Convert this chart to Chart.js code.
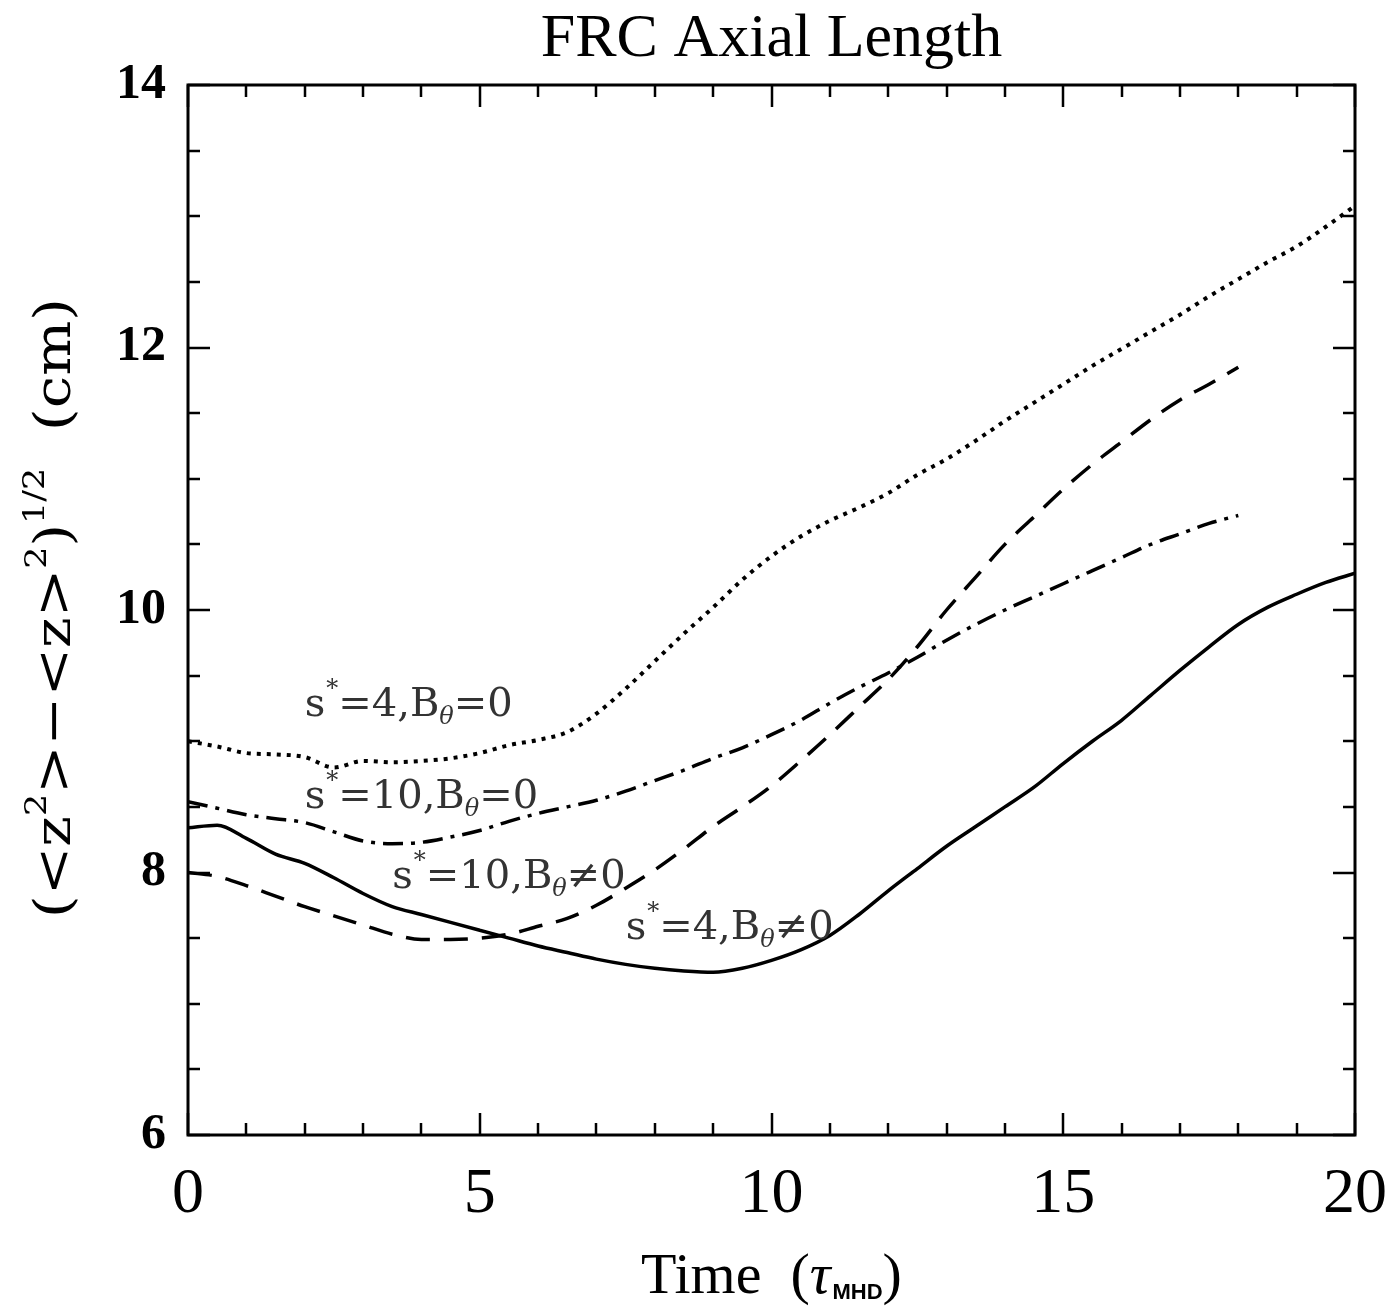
<!DOCTYPE html>
<html>
<head>
<meta charset="utf-8">
<script src="https://cdn.jsdelivr.net/npm/chart.js@4.4.1/dist/chart.umd.min.js"></script>
<style>
  html, body { margin: 0; padding: 0; background: #fff; }
</style>
</head>
<body>
<canvas id="axialChart" width="1391" height="1310"></canvas>
<script>
// time samples (tau_MHD)
const timeLong = [0, 0.5, 1, 1.5, 2, 2.5, 3, 3.5, 4, 4.5, 5, 5.5, 6, 6.5, 7, 7.5, 8, 8.5, 9, 9.5,
                  10, 10.5, 11, 11.5, 12, 12.5, 13, 13.5, 14, 14.5, 15, 15.5, 16, 16.5, 17, 17.5,
                  18, 18.5, 19, 19.5, 20];
const timeShort = [0, 0.5, 1, 1.5, 2, 2.5, 3, 3.5, 4, 4.5, 5, 5.5, 6, 6.5, 7, 7.5, 8, 8.5, 9, 9.5,
                   10, 10.5, 11, 11.5, 12, 12.5, 13, 13.5, 14, 14.5, 15, 15.5, 16, 16.5, 17, 17.5, 18];

// s*=4, B_theta != 0  (solid)
const s4Bnz = [8.34, 8.36, 8.26, 8.14, 8.07, 7.96, 7.84, 7.74, 7.68, 7.62, 7.56, 7.50, 7.44, 7.39,
               7.34, 7.30, 7.27, 7.25, 7.24, 7.27, 7.33, 7.41, 7.52, 7.68, 7.86, 8.03, 8.20, 8.35,
               8.50, 8.65, 8.83, 9.00, 9.16, 9.35, 9.54, 9.72, 9.89, 10.02, 10.12, 10.21, 10.28];
// s*=4, B_theta = 0  (dotted)
const s4B0 = [9.00, 8.96, 8.91, 8.90, 8.88, 8.80, 8.85, 8.84, 8.85, 8.87, 8.91, 8.97, 9.01, 9.07,
              9.21, 9.40, 9.61, 9.82, 10.02, 10.23, 10.41, 10.56, 10.68, 10.78, 10.89, 11.03, 11.15,
              11.29, 11.44, 11.58, 11.72, 11.86, 11.99, 12.12, 12.25, 12.39, 12.52, 12.65, 12.77,
              12.92, 13.08];
// s*=10, B_theta != 0  (dashed)
const s10Bnz = [8.00, 7.97, 7.90, 7.82, 7.74, 7.67, 7.60, 7.53, 7.49, 7.49, 7.50, 7.53, 7.59, 7.65,
                7.75, 7.88, 8.02, 8.18, 8.35, 8.50, 8.66, 8.85, 9.05, 9.26, 9.47, 9.72, 10.00, 10.25,
                10.50, 10.71, 10.92, 11.11, 11.28, 11.45, 11.60, 11.72, 11.85];
// s*=10, B_theta = 0  (dash-dot)
const s10B0 = [8.54, 8.49, 8.44, 8.41, 8.38, 8.31, 8.24, 8.22, 8.23, 8.27, 8.32, 8.39, 8.45, 8.50,
               8.55, 8.62, 8.70, 8.78, 8.87, 8.95, 9.05, 9.16, 9.29, 9.41, 9.52, 9.64, 9.77, 9.89,
               10.00, 10.10, 10.20, 10.30, 10.40, 10.50, 10.58, 10.66, 10.72];

// curve labels: [s*, relation, anchor time, anchor value]
const labelText = [['4', '=', 2.0, 9.19], ['10', '=', 2.0, 8.49], ['10', '\u2260', 3.5, 7.88], ['4', '\u2260', 7.5, 7.49]];

const xTickMinor = 1, xTickMajor = 5;
const yTickMinor = 0.5, yTickMajor = 2;

function pts(xs, ys) {
    return xs.map((t, i) => ({ x: t, y: ys[i] }));
}

// draw a run of text pieces, some raised or lowered
function drawRuns(ctx, x, y, runs) {
    let cx = x;
    runs.forEach(r => {
        ctx.font = r.font;
        ctx.fillText(r.t, cx, y + (r.dy || 0));
        cx += ctx.measureText(r.t).width + (r.gap || 0);
    });
}
function runsWidth(ctx, runs) {
    let w = 0;
    runs.forEach(r => { ctx.font = r.font; w += ctx.measureText(r.t).width + (r.gap || 0); });
    return w;
}

const frame = {
    id: 'frame',
    afterDatasetsDraw(chart) {
        const { ctx, chartArea: a, scales: { x, y } } = chart;
        ctx.save();
        ctx.strokeStyle = '#000';
        ctx.lineWidth = 3;
        ctx.strokeRect(a.left, a.top, a.right - a.left, a.bottom - a.top);
        ctx.lineWidth = 2.5;
        ctx.beginPath();
        for (let t = x.min; t <= x.max + 1e-9; t += xTickMinor) {
            const px = Math.round(x.getPixelForValue(t));
            const len = Math.abs(t % xTickMajor) < 1e-9 ? 22 : 12;
            ctx.moveTo(px, a.bottom); ctx.lineTo(px, a.bottom - len);
            ctx.moveTo(px, a.top); ctx.lineTo(px, a.top + len);
        }
        for (let v = y.min; v <= y.max + 1e-9; v += yTickMinor) {
            const py = Math.round(y.getPixelForValue(v));
            const len = Math.abs((v - y.min) % yTickMajor) < 1e-9 ? 22 : 12;
            ctx.moveTo(a.left, py); ctx.lineTo(a.left + len, py);
            ctx.moveTo(a.right, py); ctx.lineTo(a.right - len, py);
        }
        ctx.stroke();
        ctx.restore();
    },
    afterDraw(chart) {
        const { ctx, chartArea: a, scales: { x, y } } = chart;
        ctx.save();
        ctx.fillStyle = '#000';
        ctx.textBaseline = 'alphabetic';

        // title
        ctx.font = '62px "Liberation Serif"';
        ctx.textAlign = 'center';
        ctx.fillText('FRC Axial Length', (a.left + a.right) / 2, 56);
        ctx.textAlign = 'left';

        // x title
        const xf = '58px "Liberation Serif"';
        const xRuns = [
            { t: 'Time  (', font: xf },
            { t: '\u03c4', font: 'italic 58px "Liberation Serif"', gap: 2 },
            { t: 'MHD', font: 'bold 22px "Liberation Sans Narrow", "Liberation Sans"', dy: 6 },
            { t: ')', font: xf }
        ];
        drawRuns(ctx, (a.left + a.right) / 2 - runsWidth(ctx, xRuns) / 2, 1293, xRuns);

        // y title, rotated and stretched along its length
        const yf = '50px "DejaVu Serif"';
        const ys = '30px "DejaVu Serif"';
        const yRuns = [
            { t: '(<z', font: yf },
            { t: '2', font: ys, dy: -24 },
            { t: '>\u2212<z>', font: yf },
            { t: '2', font: ys, dy: -24 },
            { t: ')', font: yf },
            { t: '1/2', font: ys, dy: -26 },
            { t: '  (cm)', font: yf }
        ];
        const yw = runsWidth(ctx, yRuns);
        const stretch = 620 / yw;
        ctx.save();
        ctx.translate(70, 608);
        ctx.rotate(-Math.PI / 2);
        ctx.scale(stretch, 1);
        drawRuns(ctx, -yw / 2, 0, yRuns);
        ctx.restore();

        // curve labels
        ctx.fillStyle = '#333';
        const lf = '40px "DejaVu Serif"';
        const lsup = '24px "DejaVu Serif"';
        const lsub = 'italic 24px "DejaVu Serif"';
        labelText.forEach(([s, rel, t, v]) => {
            const runs = [
                { t: 's', font: lf, gap: 1 },
                { t: '*', font: lsup, dy: -20 },
                { t: '=' + s + ',B', font: lf },
                { t: '\u03b8', font: lsub, dy: 8 },
                { t: rel + '0', font: lf }
            ];
            drawRuns(ctx, x.getPixelForValue(t), y.getPixelForValue(v), runs);
        });
        ctx.restore();
    }
};

const lineStyle = {
    borderColor: '#000',
    backgroundColor: 'transparent',
    borderWidth: 3.5,
    pointRadius: 0,
    cubicInterpolationMode: 'monotone',
    fill: false
};

new Chart(document.getElementById('axialChart'), {
    type: 'line',
    data: {
        datasets: [
            { ...lineStyle, label: 's*=4, B=0', data: pts(timeLong, s4B0), borderDash: [4, 6], borderWidth: 4 },
            { ...lineStyle, label: 's*=10, B=0', data: pts(timeShort, s10B0), borderDash: [20, 8, 4, 8] },
            { ...lineStyle, label: 's*=10, B!=0', data: pts(timeShort, s10Bnz), borderDash: [24, 14] },
            { ...lineStyle, label: 's*=4, B!=0', data: pts(timeLong, s4Bnz) }
        ]
    },
    options: {
        responsive: false,
        devicePixelRatio: 1,
        animation: false,
        layout: { padding: { top: 85, right: 36, left: 0, bottom: 0 } },
        plugins: {
            legend: { display: false },
            tooltip: { enabled: false },
            title: { display: false }
        },
        scales: {
            x: {
                type: 'linear',
                min: 0,
                max: 20,
                grid: { display: false, drawTicks: false },
                border: { display: false },
                ticks: {
                    stepSize: 5,
                    color: '#000',
                    padding: 22,
                    maxRotation: 0,
                    font: { family: 'Liberation Serif', size: 64 }
                },
                afterFit(scale) {
                    scale.height = 175;
                    scale.paddingLeft = 0;
                    scale.paddingRight = 0;
                }
            },
            y: {
                min: 6,
                max: 14,
                grid: { display: false, drawTicks: false },
                border: { display: false },
                ticks: {
                    stepSize: 2,
                    color: '#000',
                    padding: 22,
                    font: { family: 'Liberation Serif', size: 50, weight: 'bold' }
                },
                afterFit(scale) {
                    scale.width = 188;
                    scale.paddingTop = 0;
                    scale.paddingBottom = 0;
                }
            }
        }
    },
    plugins: [frame]
});
</script>
</body>
</html>
